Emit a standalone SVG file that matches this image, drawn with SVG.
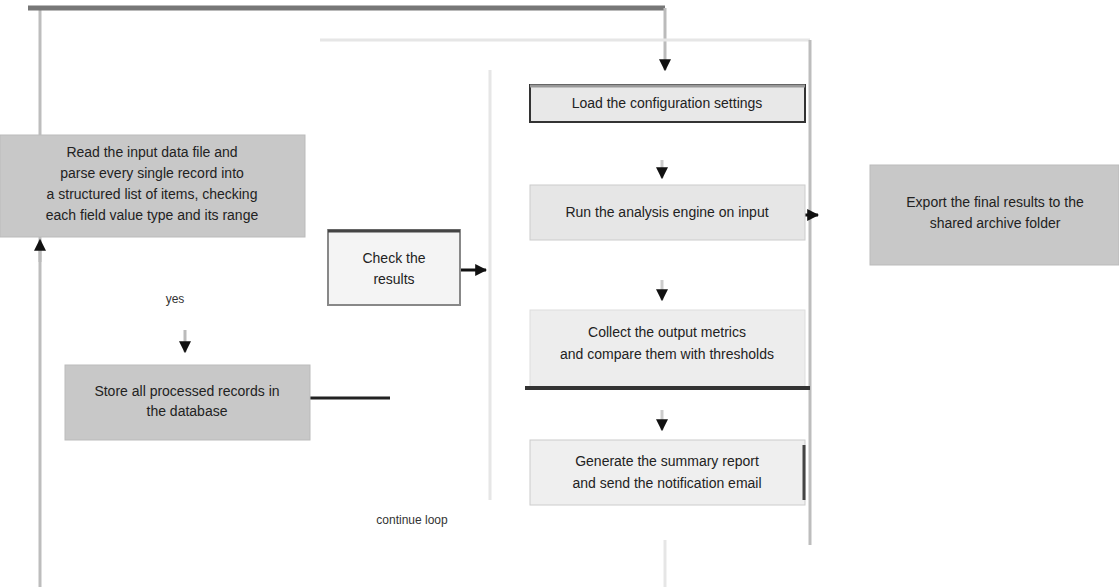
<svg xmlns="http://www.w3.org/2000/svg" width="1119" height="587" viewBox="0 0 1119 587">
<style>
.t{font-family:"Liberation Sans",Arial,sans-serif;font-size:14px;fill:#222;text-anchor:middle}
.s{font-family:"Liberation Sans",Arial,sans-serif;font-size:12px;fill:#333;text-anchor:middle}
.g{fill:#c8c8c8;stroke:#bbbbbb;stroke-width:1}
.ln{fill:none;stroke:#bdbdbd;stroke-width:3}
.lt{fill:none;stroke:#e6e6e6;stroke-width:3}
.dk{fill:none;stroke:#222;stroke-width:3}
</style>
<defs>
<marker id="a" viewBox="0 0 10 10" refX="9" refY="5" markerWidth="4" markerHeight="4" orient="auto-start-reverse"><path d="M0,0L10,5L0,10z" fill="#111"/></marker>
</defs>
<rect width="1119" height="587" fill="#fff"/>
<g id="connectors">
<path class="ln" d="M40,587V8"/>
<path d="M28,8H665" stroke="#777" stroke-width="5" fill="none"/>
<path d="M665,8V70" stroke="#bbb" stroke-width="3" fill="none" marker-end="url(#a)"/>
<path class="lt" d="M320,40H810"/>
<path class="ln" d="M810,40V545"/>
<path class="lt" d="M490,70V500"/>
<path d="M40,262V240" stroke="#bbb" stroke-width="3" marker-end="url(#a)"/>
<path d="M185,330V352" stroke="#bbb" stroke-width="3" marker-end="url(#a)"/>
<path class="dk" d="M310,398H390"/>
<path d="M460,270H486" stroke="#111" stroke-width="3" marker-end="url(#a)"/>
<path d="M662,160V178" stroke="#ccc" stroke-width="3" marker-end="url(#a)"/>
<path d="M662,280V300" stroke="#ccc" stroke-width="3" marker-end="url(#a)"/>
<path d="M662,410V430" stroke="#ccc" stroke-width="3" marker-end="url(#a)"/>
<path d="M805,215H818" stroke="#111" stroke-width="3" marker-end="url(#a)"/>
<path class="lt" d="M665,540V587"/>
<text class="s" x="175" y="303">yes</text>
<text class="s" x="412" y="524">continue loop</text>
</g>
<g id="n1"><rect class="g" x="0" y="135" width="305" height="102"/>
<text class="t" x="152" y="157">Read the input data file and</text>
<text class="t" x="152" y="178">parse every single record into</text>
<text class="t" x="152" y="199">a structured list of items, checking</text>
<text class="t" x="152" y="220">each field value type and its range</text></g>
<g id="n2"><rect class="g" x="65" y="365" width="245" height="75"/>
<text class="t" x="187" y="396">Store all processed records in</text>
<text class="t" x="187" y="416">the database</text></g>
<g id="n3"><rect x="328" y="230" width="132" height="75" fill="#f4f4f4" stroke="#888" stroke-width="2"/><path d="M328,231H460" stroke="#444" stroke-width="3"/>
<text class="t" x="394" y="263">Check the</text>
<text class="t" x="394" y="284">results</text></g>
<g id="n4"><rect x="530" y="85" width="275" height="37" fill="#e8e8e8" stroke="#333" stroke-width="2"/><path d="M530,86H805" stroke="#999" stroke-width="3"/>
<text class="t" x="667" y="108">Load the configuration settings</text></g>
<g id="n5"><rect x="530" y="185" width="275" height="55" fill="#e6e6e6" stroke="#ccc" stroke-width="1"/>
<text class="t" x="667" y="217">Run the analysis engine on input</text></g>
<g id="n6"><rect x="530" y="310" width="275" height="78" fill="#ededed" stroke="#ddd" stroke-width="1"/><path d="M525,388H810" stroke="#333" stroke-width="4"/>
<text class="t" x="667" y="337">Collect the output metrics</text>
<text class="t" x="667" y="359">and compare them with thresholds</text></g>
<g id="n7"><rect x="530" y="440" width="275" height="65" fill="#efefef" stroke="#ccc" stroke-width="1"/><path d="M804,445V500" stroke="#444" stroke-width="3"/>
<text class="t" x="667" y="466">Generate the summary report</text>
<text class="t" x="667" y="488">and send the notification email</text></g>
<g id="n8"><rect class="g" x="870" y="165" width="249" height="100"/>
<text class="t" x="995" y="207">Export the final results to the</text>
<text class="t" x="995" y="228">shared archive folder</text></g>
</svg>
